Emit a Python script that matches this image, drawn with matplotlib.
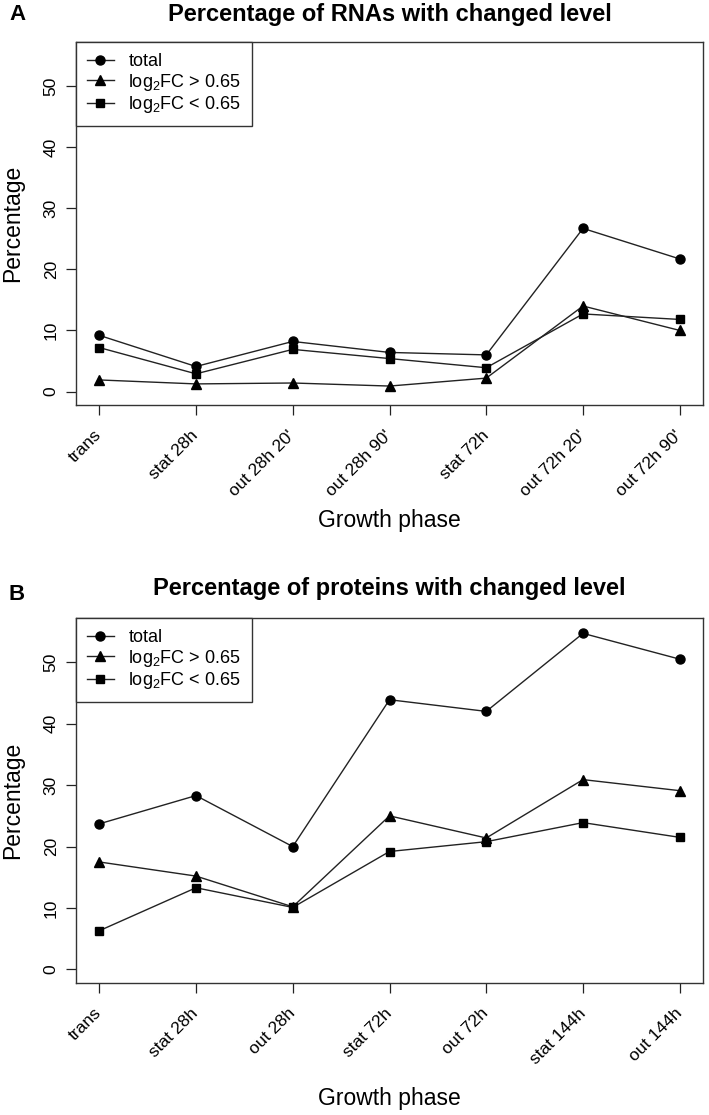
import matplotlib
matplotlib.use("Agg")
import matplotlib.pyplot as plt

plt.rcParams['font.family'] = ['Liberation Sans', 'DejaVu Sans']
plt.rcParams['mathtext.fontset'] = 'custom'
plt.rcParams['mathtext.rm'] = 'Liberation Sans'

# Panel A data
rna_phases = ["trans", "stat 28h", "out 28h 20'", "out 28h 90'", "stat 72h", "out 72h 20'", "out 72h 90'"]
rna_total = [9.2, 4.1, 8.2, 6.4, 6.0, 26.7, 21.7]
rna_up = [1.9, 1.25, 1.4, 0.9, 2.2, 14.0, 10.0]
rna_down = [7.2, 2.9, 6.9, 5.4, 3.9, 12.7, 11.8]

# Panel B data
prot_phases = ["trans", "stat 28h", "out 28h", "stat 72h", "out 72h", "stat 144h", "out 144h"]
prot_total = [23.7, 28.3, 20.0, 43.9, 42.0, 54.7, 50.5]
prot_up = [17.5, 15.2, 10.2, 25.0, 21.4, 30.9, 29.1]
prot_down = [6.3, 13.3, 10.1, 19.2, 20.8, 23.9, 21.5]

yticks = [0, 10, 20, 30, 40, 50]
legend_labels = ["total", r"log$_{\mathregular{2}}$FC > 0.65", r"log$_{\mathregular{2}}$FC < 0.65"]

W, H = 709, 1115
fig = plt.figure(figsize=(W / 100, H / 100), dpi=100)

def make_panel(rect, phases, total, up, down, title, letter, title_y, letter_y):
    ax = fig.add_axes(rect)
    x = list(range(1, len(phases) + 1))
    lc = '#222222'
    ax.plot(x, total, '-', color=lc, lw=1.0, marker='o', ms=6.5, mfc='black', mec='black', label=legend_labels[0])
    ax.plot(x, up, '-', color=lc, lw=1.0, marker='^', ms=7, mfc='black', mec='black', label=legend_labels[1])
    ax.plot(x, down, '-', color=lc, lw=1.0, marker='s', ms=5.5, mfc='black', mec='black', label=legend_labels[2])
    ax.set_xlim(0.76, 7.24)
    ax.set_ylim(-2.2, 57.2)
    ax.set_yticks(yticks)
    ax.set_yticklabels([str(v) for v in yticks], rotation=90, va='center', fontsize=12.5)
    ax.set_xticks(x)
    ax.set_xticklabels(phases, rotation=45, ha='right', va='center', rotation_mode='anchor', fontsize=12.5)
    ax.tick_params(axis='y', direction='out', length=7.5, width=0.9, pad=5, colors='#222222')
    ax.tick_params(axis='x', direction='out', length=7.5, width=0.9, pad=12.5, colors='#222222')
    for lab in ax.get_xticklabels() + ax.get_yticklabels():
        lab.set_color('black')
    for s in ax.spines.values():
        s.set_linewidth(1.0)
        s.set_color('#333333')
    ax.set_xlabel("Growth phase", fontsize=16.5, va='center')
    ax.xaxis.set_label_coords(0.5, -0.317)
    ax.set_ylabel("Percentage", fontsize=16.5, va='center')
    ax.yaxis.set_label_coords(-0.1005, 0.5)
    leg = ax.legend(loc='upper left', borderaxespad=0, fancybox=False, framealpha=1,
                    edgecolor='#333333', fontsize=13, handlelength=1.5, handletextpad=0.8,
                    labelspacing=0.1, borderpad=0.6)
    leg.get_frame().set_linewidth(1.0)
    cx = rect[0] + rect[2] / 2
    fig.text(cx, 1 - title_y / H, title, ha='center', va='center', fontsize=17, fontweight='bold')
    fig.text(9 / W, 1 - letter_y / H, letter, ha='left', va='center', fontsize=16, fontweight='bold')
    return ax

make_panel([76 / W, 1 - 405 / H, 627 / W, 363 / H], rna_phases, rna_total, rna_up, rna_down,
           "Percentage of RNAs with changed level", "A", 15, 15)
make_panel([76 / W, 1 - 983 / H, 627 / W, 365 / H], prot_phases, prot_total, prot_up, prot_down,
           "Percentage of proteins with changed level", "B", 589, 595)

fig.savefig("out.png", dpi=100)
